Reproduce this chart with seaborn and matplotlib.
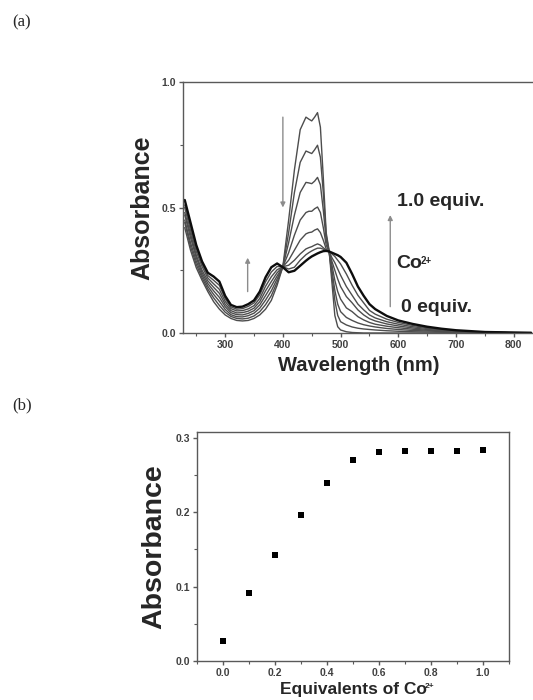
import numpy as np
import pandas as pd
import matplotlib
matplotlib.use("Agg")
import matplotlib.pyplot as plt
import seaborn as sns
from matplotlib.ticker import MultipleLocator

# --- titration spectra ---
wavelength = [230, 240, 250, 260, 270, 280, 290, 300, 310, 320, 330, 340, 350, 360, 370, 380, 390, 400,
              410, 420, 430, 440,
              445, 450, 455, 460, 465, 470, 475, 480, 485, 490, 495, 500,
              510, 520, 530, 540, 550, 560,
              580, 600, 625, 650, 675, 700,
              750, 800, 830]

abs_0 = [0.42, 0.33, 0.26, 0.21, 0.165, 0.125, 0.095, 0.072, 0.058, 0.05, 0.048, 0.05, 0.058, 0.072, 0.095, 0.13, 0.19, 0.265,
         0.45, 0.65, 0.81, 0.86,
         0.852, 0.845, 0.86, 0.878, 0.82, 0.62, 0.40, 0.33, 0.20, 0.07, 0.025, 0.012,
         0.005, 0.002, 0.001, 0.0, 0.0, 0.0,
         0.0, 0.0, 0.0, 0.0, 0.0, 0.0,
         0.0, 0.0, 0.0]
abs_1 = [0.44, 0.345, 0.273, 0.22, 0.175, 0.14, 0.11, 0.083, 0.066, 0.058, 0.056, 0.059, 0.068, 0.085, 0.113, 0.149, 0.202, 0.264,
         0.40, 0.56, 0.68, 0.725,
         0.72, 0.715, 0.73, 0.748, 0.70, 0.56, 0.39, 0.325, 0.23, 0.13, 0.07, 0.045,
         0.032, 0.024, 0.019, 0.016, 0.014, 0.012,
         0.009, 0.007, 0.005, 0.004, 0.003, 0.002,
         0.001, 0.0, 0.0]
abs_2 = [0.45, 0.36, 0.286, 0.23, 0.186, 0.154, 0.126, 0.094, 0.073, 0.065, 0.064, 0.069, 0.079, 0.099, 0.131, 0.168, 0.215, 0.264,
         0.36, 0.47, 0.56, 0.60,
         0.598, 0.595, 0.605, 0.62, 0.59, 0.49, 0.37, 0.325, 0.25, 0.17, 0.115, 0.085,
         0.062, 0.05, 0.04, 0.033, 0.028, 0.024,
         0.018, 0.014, 0.01, 0.008, 0.006, 0.004,
         0.002, 0.001, 0.0]
abs_3 = [0.47, 0.38, 0.30, 0.24, 0.197, 0.168, 0.142, 0.105, 0.081, 0.073, 0.072, 0.078, 0.089, 0.112, 0.149, 0.187, 0.227, 0.264,
         0.32, 0.39, 0.45, 0.48,
         0.485, 0.485, 0.495, 0.502, 0.48, 0.42, 0.35, 0.325, 0.27, 0.21, 0.165, 0.135,
         0.10, 0.085, 0.065, 0.052, 0.042, 0.035,
         0.027, 0.021, 0.015, 0.011, 0.008, 0.005,
         0.002, 0.001, 0.0]
abs_4 = [0.48, 0.395, 0.31, 0.25, 0.208, 0.182, 0.158, 0.115, 0.089, 0.08, 0.081, 0.087, 0.099, 0.125, 0.168, 0.205, 0.24, 0.264,
         0.29, 0.33, 0.37, 0.395,
         0.40, 0.402, 0.41, 0.415, 0.40, 0.37, 0.335, 0.325, 0.285, 0.25, 0.215, 0.185,
         0.145, 0.12, 0.092, 0.072, 0.057, 0.048,
         0.036, 0.028, 0.02, 0.014, 0.01, 0.007,
         0.003, 0.001, 0.001]
abs_5 = [0.50, 0.41, 0.325, 0.265, 0.219, 0.196, 0.174, 0.126, 0.097, 0.088, 0.089, 0.096, 0.109, 0.138, 0.186, 0.224, 0.252, 0.264,
         0.27, 0.29, 0.315, 0.335,
         0.34, 0.344, 0.35, 0.355, 0.35, 0.34, 0.33, 0.325, 0.30, 0.28, 0.255, 0.23,
         0.185, 0.15, 0.115, 0.092, 0.072, 0.06,
         0.045, 0.035, 0.025, 0.018, 0.012, 0.008,
         0.003, 0.001, 0.001]
abs_6 = [0.51, 0.425, 0.337, 0.275, 0.229, 0.21, 0.19, 0.137, 0.104, 0.095, 0.097, 0.106, 0.12, 0.152, 0.204, 0.243, 0.265, 0.264,
         0.255, 0.262, 0.29, 0.312,
         0.32, 0.327, 0.333, 0.338, 0.338, 0.334, 0.328, 0.325, 0.315, 0.305, 0.29, 0.275,
         0.235, 0.19, 0.15, 0.12, 0.09, 0.075,
         0.055, 0.042, 0.03, 0.021, 0.014, 0.009,
         0.003, 0.0015, 0.001]
abs_final = [0.53, 0.44, 0.35, 0.285, 0.24, 0.225, 0.205, 0.148, 0.112, 0.103, 0.105, 0.115, 0.13, 0.165, 0.222, 0.262, 0.277, 0.262,
             0.242, 0.248, 0.268, 0.288,
             0.297, 0.305, 0.311, 0.317, 0.322, 0.326, 0.327, 0.325, 0.32, 0.315, 0.31, 0.303,
             0.28, 0.235, 0.185, 0.148, 0.115, 0.095,
             0.068, 0.05, 0.036, 0.025, 0.017, 0.011,
             0.004, 0.002, 0.001]

# --- titration curve (b) ---
equivalents = [0.0, 0.1, 0.2, 0.3, 0.4, 0.5, 0.6, 0.7, 0.8, 0.9, 1.0]
absorbance = [0.027, 0.091, 0.143, 0.196, 0.240, 0.270, 0.281, 0.282, 0.282, 0.283, 0.284]

sns.set_style("ticks")
plt.rcParams["font.family"] = ["Liberation Sans", "DejaVu Sans"]

W, H = 533, 700
fig = plt.figure(figsize=(W / 100, H / 100), dpi=100)
fig.patch.set_facecolor("white")


def frac(left, top, right, bottom):
    return [left / W, 1 - bottom / H, (right - left) / W, (bottom - top) / H]


def style_axes(ax, spine_col="0.35"):
    for s in ax.spines.values():
        s.set_color(spine_col)
        s.set_linewidth(1.0)
    ax.tick_params(which="both", direction="out", colors=spine_col, top=False, right=False)
    ax.tick_params(which="major", length=3, width=1, labelsize=7.5, pad=2)
    ax.tick_params(which="minor", length=2, width=0.8)
    for lab in ax.get_xticklabels() + ax.get_yticklabels():
        lab.set_fontweight("bold")
        lab.set_color("0.25")


# ---------------- (a) spectra ----------------
ax1 = fig.add_axes(frac(183, 82, 534, 333))
curves = [abs_0, abs_1, abs_2, abs_3, abs_4, abs_5, abs_6]
for c in curves:
    sns.lineplot(x=wavelength, y=c, ax=ax1, color="0.3", lw=1.0, sort=False)
sns.lineplot(x=wavelength, y=abs_final, ax=ax1, color="0.05", lw=1.7, sort=False)

ax1.set_xlim(227, 835)
ax1.set_ylim(0, 1.0)
ax1.set_xticks([300, 400, 500, 600, 700, 800])
ax1.xaxis.set_minor_locator(MultipleLocator(50))
ax1.set_yticks([0.0, 0.5, 1.0])
ax1.yaxis.set_minor_locator(MultipleLocator(0.25))
ax1.set_xticklabels(["300", "400", "500", "600", "700", "800"])
ax1.set_yticklabels(["0.0", "0.5", "1.0"])
ax1.spines["right"].set_visible(False)
style_axes(ax1)
ax1.set_xlabel("Wavelength (nm)", fontsize=14.5, fontweight="bold", labelpad=4)
ax1.set_ylabel("Absorbance", fontsize=18, fontweight="bold", labelpad=5)

arrow = dict(arrowstyle="-|>", color="0.55", lw=1.0, mutation_scale=7, shrinkA=0, shrinkB=0)
ax1.annotate("", xy=(400, 0.50), xytext=(400, 0.86), arrowprops=arrow)
ax1.annotate("", xy=(339, 0.30), xytext=(339, 0.165), arrowprops=arrow)
ax1.annotate("", xy=(586, 0.47), xytext=(586, 0.105), arrowprops=arrow)

ax1.text(597, 0.525, "1.0 equiv.", fontsize=14, fontweight="bold", va="center", ha="left")
co_txt = ax1.text(597, 0.275, "Co", fontsize=14, fontweight="bold", va="center", ha="left")
ax1.text(605, 0.10, "0 equiv.", fontsize=14, fontweight="bold", va="center", ha="left")

# ---------------- (b) titration ----------------
ax2 = fig.add_axes(frac(197, 432, 509, 661))
sns.scatterplot(x=equivalents, y=absorbance, ax=ax2, marker="s", s=16, color="black",
                edgecolor="black", linewidth=0)
ax2.set_xlim(-0.1, 1.1)
ax2.set_ylim(0, 0.308)
ax2.set_xticks([0.0, 0.2, 0.4, 0.6, 0.8, 1.0])
ax2.xaxis.set_minor_locator(MultipleLocator(0.1))
ax2.set_yticks([0.0, 0.1, 0.2, 0.3])
ax2.yaxis.set_minor_locator(MultipleLocator(0.05))
ax2.set_xticklabels(["0.0", "0.2", "0.4", "0.6", "0.8", "1.0"])
ax2.set_yticklabels(["0.0", "0.1", "0.2", "0.3"])
style_axes(ax2)
ax2.set_xlabel("Equivalents of Co", fontsize=12.5, fontweight="bold", labelpad=3)
ax2.set_ylabel("Absorbance", fontsize=20.5, fontweight="bold", labelpad=6)

# panel tags
fig.text(12 / W, 1 - 22 / H, "(a)", fontsize=12, family="Liberation Serif", va="center", ha="left")
fig.text(12 / W, 1 - 405 / H, "(b)", fontsize=12, family="Liberation Serif", va="center", ha="left")

# small "2+" superscripts placed after the rendered "Co"
fig.canvas.draw()
for txt, size in [(co_txt, 7), (ax2.xaxis.label, 6)]:
    bb = txt.get_window_extent()
    fig.text((bb.x1 - 1.5) / W, (bb.y1 - 1) / H, "2+", fontsize=size, fontweight="bold",
             va="top", ha="left")

fig.savefig("out.png", dpi=100, facecolor="white")
